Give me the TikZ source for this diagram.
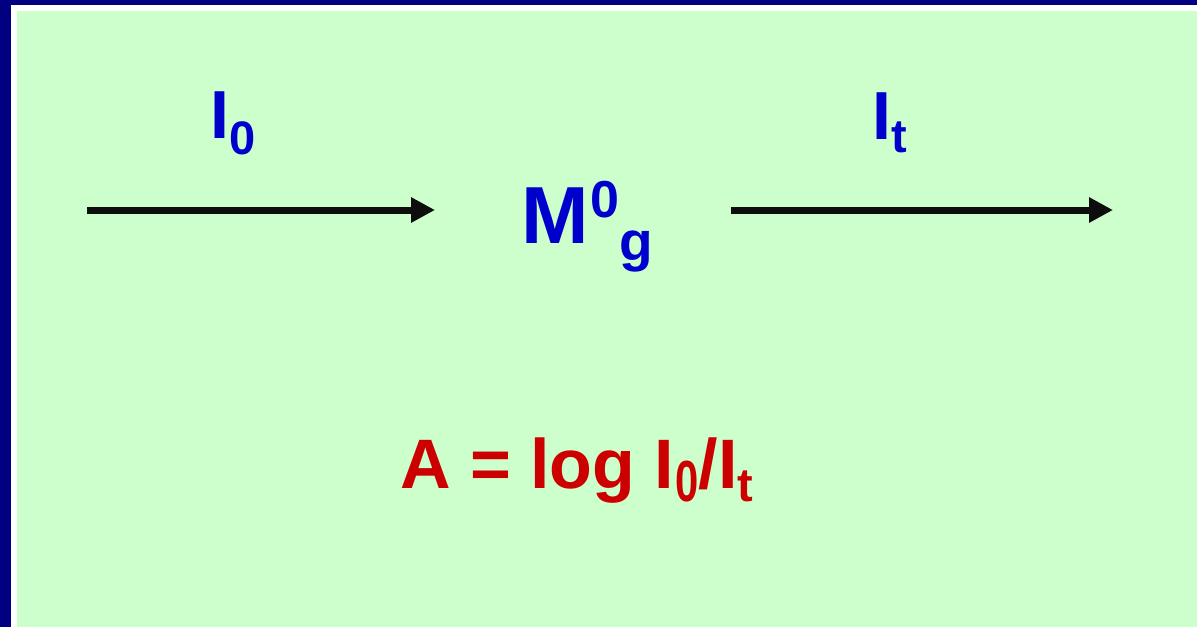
\documentclass[tikz,border=0pt]{standalone}
\usepackage{fontspec}
\setmainfont{Liberation Sans}
\usetikzlibrary{arrows.meta,positioning}
\definecolor{panel}{RGB}{204,255,204}
\definecolor{frame}{RGB}{0,0,128}
\newcommand{\fsz}[1]{\fontsize{#1}{#1}\selectfont}

\begin{document}
\begin{tikzpicture}[x=1pt, y=-1pt,
    lbl/.style={inner sep=0pt, anchor=base west, text=#1, font=\bfseries},
    beam/.style={-{Triangle[length=24pt, width=24pt]}, line width=7pt, color=black!95}
]
% frame and panel
\fill[frame] (0,0) rectangle (1197,627);
\fill[white] (11,5) rectangle (1197,627);
\fill[panel] (17,11) rectangle (1197,627);
\useasboundingbox (0,0) rectangle (1197,627);

\node[lbl=blue!80!black] (iin) at (210,138) {\fsz{68}I\raisebox{-16pt}{\fsz{47}0}};
\node[lbl=blue!80!black] (iout) at (872,139) {\fsz{68}I\raisebox{-13pt}{\fsz{47}t}};
\node[lbl=blue!80!black] (sample) at (521,243) {\fsz{81}M\kern2pt\raisebox{26pt}{\fsz{52}0}\raisebox{-17pt}{\fsz{55}g}};
\node[lbl=red!80!black] (law) at (400,488) {\fsz{70}A = log I\kern1pt\raisebox{-13pt}{\fsz{58}\scalebox{0.72}[1]{0}}/I\raisebox{-13pt}{\fsz{47}t}};

\coordinate (beamina) at (87,210);
\coordinate (beaminb) at (435,210);
\coordinate (beamouta) at (731,210);
\coordinate (beamoutb) at (1113,210);
\draw[beam] (beamina) -- (beaminb);
\draw[beam] (beamouta) -- (beamoutb);
\end{tikzpicture}
\end{document}
